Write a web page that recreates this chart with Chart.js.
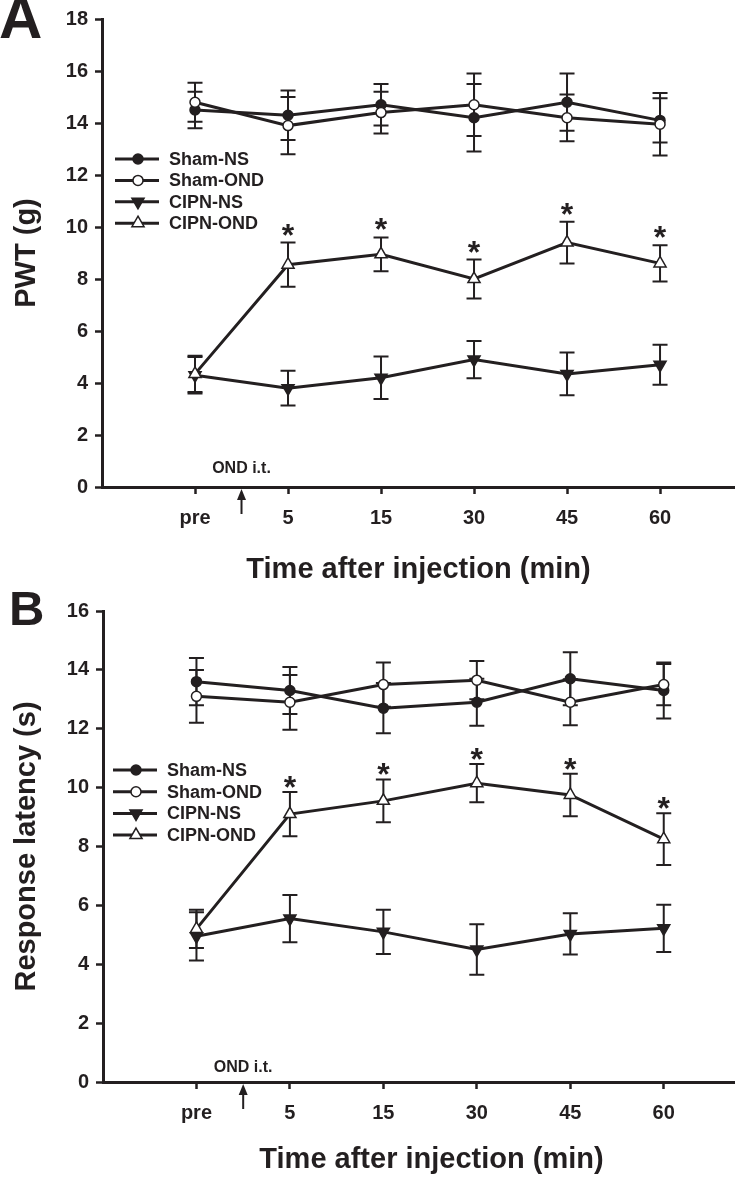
<!DOCTYPE html>
<html>
<head>
<meta charset="utf-8">
<script src="https://cdn.jsdelivr.net/npm/chart.js"></script>
<style>
  body { margin: 0; width: 735px; height: 1177px; overflow: hidden; background: #fff; position: relative; }
  canvas { position: absolute; left: 0; }
  #chartA { top: 0; }
  #chartB { top: 590px; }
</style>
</head>
<body>
<canvas id="chartA" width="735" height="590"></canvas>
<canvas id="chartB" width="760" height="587"></canvas>
<script>
const ink = '#231f20';
const family = '"Liberation Sans", Arial, sans-serif';

const timeLabels = ['pre', '5', '15', '30', '45', '60'];
const seriesNames = ['Sham-NS', 'Sham-OND', 'CIPN-NS', 'CIPN-OND'];

// Panel A - paw withdrawal threshold (g), mean and error
const shamNsA = [14.5, 14.3, 14.7, 14.2, 14.8, 14.1];
const shamNsErrA = [0.7, 0.95, 0.8, 1.3, 1.1, 0.85];
const shamOndA = [14.8, 13.9, 14.4, 14.7, 14.2, 13.95];
const shamOndErrA = [0.75, 1.1, 0.8, 1.2, 0.9, 1.2];
const cipnNsA = [4.3, 3.8, 4.2, 4.9, 4.35, 4.7];
const cipnNsErrA = [0.7, 0.67, 0.82, 0.72, 0.82, 0.77];
const cipnOndA = [4.35, 8.55, 8.95, 8.0, 9.4, 8.6];
const cipnOndErrA = [0.7, 0.85, 0.65, 0.75, 0.8, 0.7];
const starsA = ['', '*', '*', '*', '*', '*'];

// Panel B - response latency (s)
const shamNsB = [13.6, 13.3, 12.7, 12.9, 13.7, 13.3];
const shamNsErrB = [0.8, 0.8, 0.85, 0.8, 0.9, 0.95];
const shamOndB = [13.1, 12.9, 13.5, 13.65, 12.9, 13.5];
const shamOndErrB = [0.9, 0.93, 0.75, 0.65, 0.78, 0.7];
const cipnNsB = [4.95, 5.55, 5.1, 4.5, 5.03, 5.22];
const cipnNsErrB = [0.82, 0.8, 0.75, 0.86, 0.7, 0.8];
const cipnOndB = [5.2, 9.1, 9.55, 10.15, 9.75, 8.25];
const cipnOndErrB = [0.65, 0.75, 0.73, 0.65, 0.72, 0.88];
const starsB = ['', '*', '*', '*', '*', '*'];

// marker look per series
const markers = [
  { style: 'circle', radius: 5, fill: ink, rotation: 0 },
  { style: 'circle', radius: 5, fill: '#fff', rotation: 0 },
  { style: 'triangle', radius: 7, fill: ink, rotation: 180 },
  { style: 'triangle', radius: 7, fill: '#fff', rotation: 0 }
];

function drawMarker(ctx, m, x, y) {
  ctx.beginPath();
  if (m.style === 'circle') {
    ctx.arc(x, y, m.radius, 0, Math.PI * 2);
  } else {
    let rad = m.rotation * Math.PI / 180;
    for (let k = 0; k < 3; k++) {
      const px = x + Math.sin(rad) * m.radius;
      const py = y - Math.cos(rad) * m.radius;
      k === 0 ? ctx.moveTo(px, py) : ctx.lineTo(px, py);
      rad += Math.PI * 2 / 3;
    }
    ctx.closePath();
  }
  ctx.fillStyle = m.fill;
  ctx.fill();
  ctx.lineWidth = 1.5;
  ctx.strokeStyle = ink;
  ctx.stroke();
}

const extras = {
  id: 'extras',
  beforeDatasetsDraw(chart, args, o) {
    const ctx = chart.ctx, xs = chart.scales.x, ys = chart.scales.y;
    ctx.save();
    ctx.strokeStyle = ink;
    ctx.lineWidth = 2;
    chart.data.datasets.forEach(ds => {
      ds.data.forEach((p, i) => {
        const px = xs.getPixelForValue(p.x);
        const top = ys.getPixelForValue(p.y + ds.err[i]);
        const bot = ys.getPixelForValue(p.y - ds.err[i]);
        ctx.beginPath();
        ctx.moveTo(px, top); ctx.lineTo(px, bot);
        ctx.moveTo(px - 7.5, top); ctx.lineTo(px + 7.5, top);
        ctx.moveTo(px - 7.5, bot); ctx.lineTo(px + 7.5, bot);
        ctx.stroke();
      });
    });
    ctx.restore();
  },
  afterDraw(chart, args, o) {
    const ctx = chart.ctx, xs = chart.scales.x, ys = chart.scales.y;
    ctx.save();
    ctx.fillStyle = ink;
    ctx.strokeStyle = ink;

    // significance marks above CIPN-OND
    const ond = chart.data.datasets[3];
    ctx.font = 'bold 32px ' + family;
    ctx.textAlign = 'center';
    ctx.textBaseline = 'alphabetic';
    o.stars.forEach((s, i) => {
      if (!s) return;
      const p = ond.data[i];
      const capY = ys.getPixelForValue(p.y + ond.err[i]);
      ctx.fillText(s, xs.getPixelForValue(p.x), capY + o.starGap);
    });

    // injection arrow and label
    const ax = xs.getPixelForValue(0.5);
    const axisY = ys.getPixelForValue(0);
    ctx.lineWidth = 2;
    ctx.beginPath();
    ctx.moveTo(ax, axisY + 9); ctx.lineTo(ax, axisY + 27);
    ctx.stroke();
    ctx.beginPath();
    ctx.moveTo(ax, axisY + 2);
    ctx.lineTo(ax - 4.5, axisY + 13);
    ctx.lineTo(ax + 4.5, axisY + 13);
    ctx.closePath();
    ctx.fill();
    ctx.font = 'bold 16px ' + family;
    ctx.textBaseline = 'middle';
    ctx.fillText('OND i.t.', ax, axisY - o.noteGap);

    // legend
    ctx.textAlign = 'left';
    ctx.font = 'bold 18px ' + family;
    seriesNames.forEach((name, k) => {
      const ly = o.legendY + k * o.legendStep;
      ctx.lineWidth = 3;
      ctx.beginPath();
      ctx.moveTo(o.legendX, ly); ctx.lineTo(o.legendX + 44, ly);
      ctx.stroke();
      drawMarker(ctx, markers[k], o.legendX + 23, ly);
      ctx.fillStyle = ink;
      ctx.fillText(name, o.legendX + 54, ly + 1);
    });

    // panel letter
    ctx.font = 'bold ' + o.letterSize + 'px ' + family;
    ctx.textBaseline = 'alphabetic';
    ctx.fillText(o.letter, o.letterX, o.letterY);
    ctx.restore();
  }
};

function buildDatasets(values, errors) {
  return values.map((vals, k) => ({
    label: seriesNames[k],
    data: vals.map((v, i) => ({ x: i, y: v })),
    err: errors[k],
    borderColor: ink,
    borderWidth: 3,
    backgroundColor: markers[k].fill,
    pointBackgroundColor: markers[k].fill,
    pointBorderColor: ink,
    pointBorderWidth: 1.5,
    pointStyle: markers[k].style,
    pointRadius: markers[k].radius,
    pointRotation: markers[k].rotation,
    order: k % 2 === 0 ? 2 : 1,
    tension: 0,
    clip: false
  }));
}

function makeChart(id, p) {
  const tickFont = { family, size: p.tickSize, weight: 'bold' };
  const titleFont = { family, size: 29, weight: 'bold' };
  return new Chart(document.getElementById(id), {
    type: 'line',
    data: { datasets: buildDatasets(p.values, p.errors) },
    plugins: [extras],
    options: {
      responsive: false,
      animation: false,
      devicePixelRatio: 1,
      events: [],
      layout: { autoPadding: false, padding: { top: p.top, left: 0, right: 0, bottom: 0 } },
      plugins: {
        legend: { display: false },
        tooltip: { enabled: false },
        extras: p.extras
      },
      scales: {
        x: {
          type: 'linear',
          min: -1,
          max: p.xMax,
          afterBuildTicks: s => { s.ticks = timeLabels.map((_, i) => ({ value: i })); },
          afterFit: s => { s.height = p.xHeight; },
          grid: { drawOnChartArea: false, tickLength: 7, tickWidth: 2.5, tickColor: ink },
          border: { color: ink, width: 3 },
          ticks: { color: ink, font: tickFont, padding: 12, autoSkip: false, maxRotation: 0,
                   callback: v => timeLabels[v] },
          title: { display: true, text: 'Time after injection (min)', color: ink, font: titleFont,
                   padding: { top: 0, bottom: p.xTitlePad } }
        },
        y: {
          min: 0,
          max: p.yMax,
          afterFit: s => { s.width = p.yWidth; },
          grid: { drawOnChartArea: false, tickLength: 7, tickWidth: 2.5, tickColor: ink },
          border: { color: ink, width: 3 },
          ticks: { stepSize: 2, color: ink, font: tickFont, padding: 7 },
          title: { display: true, text: p.yTitle, color: ink, font: titleFont,
                   padding: { top: 10, bottom: 0 } }
        }
      }
    }
  });
}

makeChart('chartA', {
  values: [shamNsA, shamOndA, cipnNsA, cipnOndA],
  errors: [shamNsErrA, shamOndErrA, cipnNsErrA, cipnOndErrA],
  yTitle: 'PWT (g)', yMax: 18, xMax: 5.806,
  top: 16, yWidth: 102, xHeight: 103, xTitlePad: 3, tickSize: 20,
  extras: { stars: starsA, starGap: 3, noteGap: 18.5,
            legendX: 115, legendY: 159, legendStep: 21.4,
            letter: 'A', letterSize: 60, letterX: -1, letterY: 38 }
});

makeChart('chartB', {
  values: [shamNsB, shamOndB, cipnNsB, cipnOndB],
  errors: [shamNsErrB, shamOndErrB, cipnNsErrB, cipnOndErrB],
  yTitle: 'Response latency (s)', yMax: 16, xMax: 6.03,
  top: 21, yWidth: 103, xHeight: 95, xTitlePad: 0, tickSize: 20,
  extras: { stars: starsB, starGap: 6, noteGap: 14,
            legendX: 113, legendY: 180, legendStep: 21.7,
            letter: 'B', letterSize: 49, letterX: 9, letterY: 35 }
});
</script>
</body>
</html>
